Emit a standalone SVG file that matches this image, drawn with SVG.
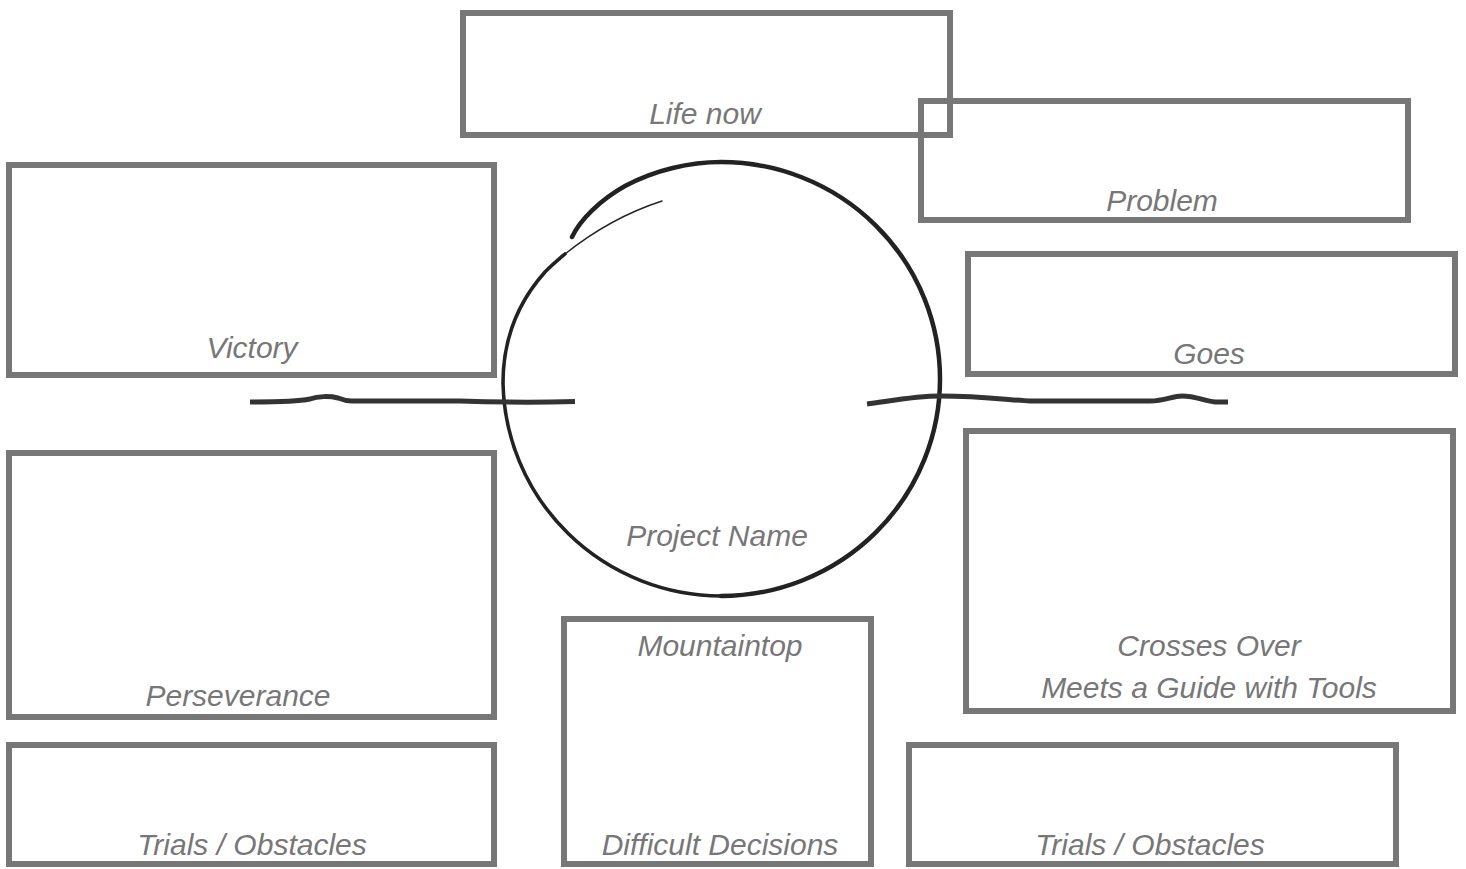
<svg xmlns="http://www.w3.org/2000/svg" width="1466" height="869" viewBox="0 0 1466 869">
<style>
.box{fill:none;stroke:#777;stroke-width:6}
.lbl{font-family:"Liberation Sans",Arial,sans-serif;font-style:italic;font-size:30px;fill:#777;text-anchor:middle}
.ink{fill:none;stroke:#222;stroke-linecap:round;stroke-linejoin:round}
.line{fill:none;stroke:#333;stroke-width:5;stroke-linecap:butt}
</style>
<rect width="1466" height="869" fill="#fff"/>
<g id="life-now"><rect class="box" x="463" y="13" width="487" height="122"/><text class="lbl" x="705" y="124">Life now</text></g>
<g id="problem"><rect class="box" x="921" y="101" width="487" height="119"/><text class="lbl" x="1162" y="211">Problem</text></g>
<g id="victory"><rect class="box" x="9" y="165" width="485" height="210"/><text class="lbl" x="252" y="358">Victory</text></g>
<g id="goes"><rect class="box" x="968" y="254" width="487" height="120"/><text class="lbl" x="1209" y="364">Goes</text></g>
<g id="perseverance"><rect class="box" x="9" y="453" width="485" height="264"/><text class="lbl" x="238" y="706">Perseverance</text></g>
<g id="crosses-over"><rect class="box" x="966" y="431" width="487" height="280"/><text class="lbl" x="1209" y="656">Crosses Over</text><text class="lbl" x="1209" y="698">Meets a Guide with Tools</text></g>
<g id="trials-left"><rect class="box" x="9" y="745" width="485" height="119"/><text class="lbl" x="252" y="855">Trials / Obstacles</text></g>
<g id="mountaintop"><rect class="box" x="564" y="619" width="307" height="245"/><text class="lbl" x="720" y="656">Mountaintop</text><text class="lbl" x="720" y="855">Difficult Decisions</text></g>
<g id="trials-right"><rect class="box" x="909" y="745" width="487" height="119"/><text class="lbl" x="1150" y="855">Trials / Obstacles</text></g>
<g id="project-name">
<path class="ink" stroke-width="4.5" d="M572,237 C580,220 600,200 625,186 C655,170 690,162 721,162 A219,217 0 0 1 940,379 A219,217 0 0 1 721,596"/>
<path class="ink" stroke-width="3.6" d="M721,596 A219,217 0 0 1 503,383 C503,335 520,300 545,272 C552,265 558,260 565,254"/>
<path class="ink" stroke-width="1.4" d="M565,254 C590,234 625,213 662,201"/>
<text class="lbl" x="717" y="546">Project Name</text>
</g>
<g id="connectors">
<path class="line" d="M250,402 C280,402 300,401 310,399 C318,396 330,396 338,398 C343,400 347,401 352,401 L460,401 C490,402 520,403 575,401.5"/>
<path class="line" d="M867,404 C890,401 915,396 940,396 C980,396 1010,400 1030,401 L1150,401 C1165,401 1172,396 1182,396 C1195,396 1205,401 1215,402 L1228,402"/>
</g>
</svg>
